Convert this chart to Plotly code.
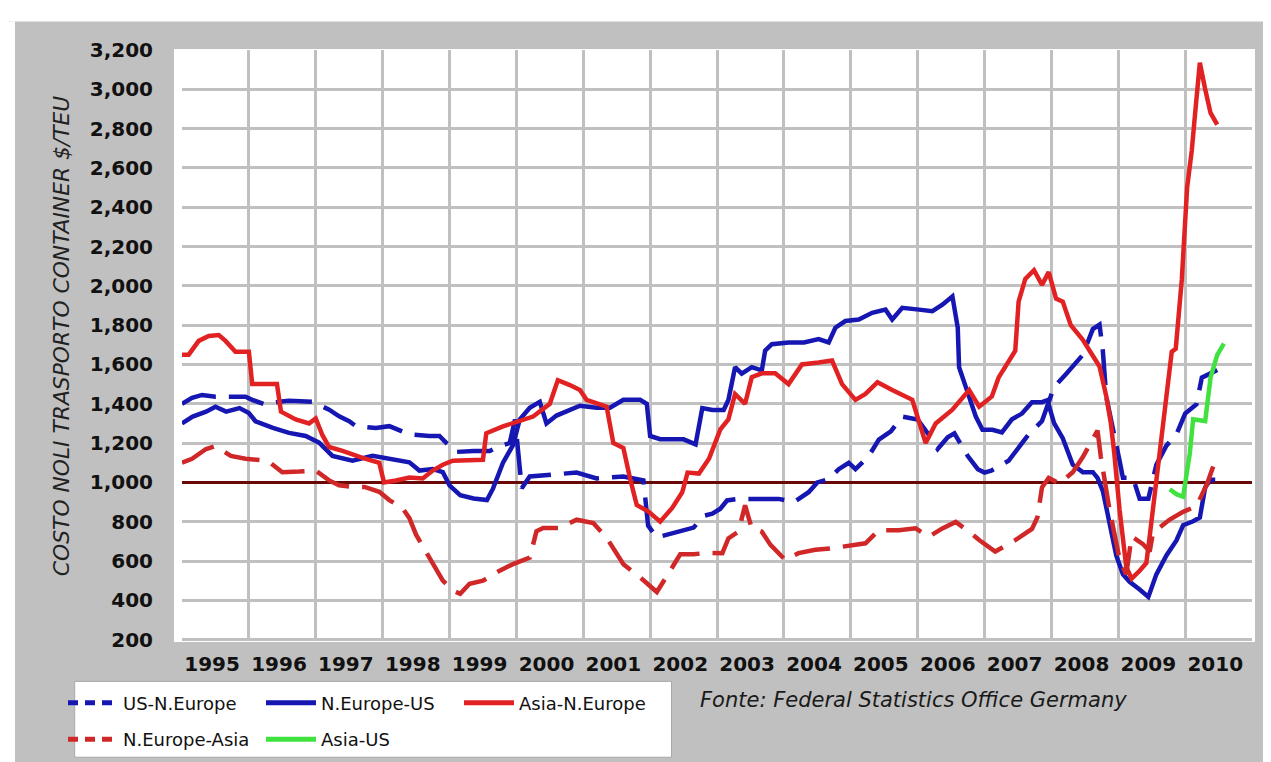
import plotly.graph_objects as go

# ---------------- data ----------------
YEARS = list(range(1995, 2011))
YEAR_LABELS = [str(y) for y in YEARS]
Y_TICKS = list(range(200, 3201, 200))
THRESHOLD = 1000

# US-N.Europe (dashed blue)
us_eu_t = [1995.0, 1995.15, 1995.3, 1995.5, 1995.75, 1995.95, 1996.05, 1996.25, 1996.45, 1996.6,
           1996.95, 1997.2, 1997.35, 1997.5, 1997.6, 1997.9, 1998.1, 1998.4, 1998.7, 1998.85,
           1999.0, 1999.1, 1999.36, 1999.6, 1999.75, 1999.9, 1999.98, 2000.08, 2000.2, 2000.5,
           2000.9, 2001.2, 2001.6, 2001.9, 2001.97, 2002.1, 2002.3, 2002.5, 2002.65, 2002.8,
           2002.93, 2003.05, 2003.15, 2003.32, 2003.92, 2004.15, 2004.37, 2004.5, 2004.67, 2004.82,
           2004.97, 2005.07, 2005.27, 2005.42, 2005.6, 2005.77, 2005.92, 2006.0, 2006.15, 2006.3,
           2006.45, 2006.55, 2006.75, 2006.9, 2007.0, 2007.1, 2007.36, 2007.66, 2007.86, 2008.04,
           2008.22, 2008.47, 2008.62, 2008.72, 2008.77, 2008.82, 2009.02, 2009.07, 2009.22, 2009.32,
           2009.45, 2009.57, 2009.72, 2009.87, 2010.0, 2010.17, 2010.25, 2010.48]
us_eu_v = [1400, 1430, 1445, 1436, 1436, 1436, 1420, 1395, 1410, 1415,
           1410, 1370, 1336, 1311, 1286, 1277, 1286, 1244, 1236, 1236,
           1185, 1155, 1160, 1160, 1185, 1200, 1320, 970, 1030, 1040,
           1050, 1020, 1030, 1010, 780, 720, 740, 760, 770, 830,
           841, 866, 908, 916, 916, 900, 950, 1000, 1017, 1067,
           1100, 1067, 1134, 1218, 1260, 1335, 1327, 1320, 1250, 1170,
           1230, 1250, 1134, 1067, 1050, 1060, 1110, 1244, 1312, 1485,
           1552, 1649, 1780, 1803, 1668, 1437, 1110, 1023, 1023, 917,
           917, 1090, 1187, 1244, 1350, 1398, 1533, 1572]

# N.Europe-US (solid blue)
eu_us_t = [1995.0, 1995.16, 1995.36, 1995.5, 1995.66, 1995.86, 1996.0, 1996.1, 1996.36, 1996.6,
           1996.85, 1997.05, 1997.25, 1997.55, 1997.85, 1998.15, 1998.4, 1998.55, 1998.75, 1998.9,
           1999.0, 1999.16, 1999.36, 1999.56, 1999.65, 1999.8, 1999.95, 2000.05, 2000.2, 2000.35,
           2000.45, 2000.6, 2000.8, 2000.95, 2001.2, 2001.4, 2001.6, 2001.85, 2001.95, 2002.0,
           2002.15, 2002.5, 2002.68, 2002.78, 2002.93, 2003.1, 2003.17, 2003.27, 2003.37, 2003.52,
           2003.67, 2003.72, 2003.82, 2004.07, 2004.3, 2004.52, 2004.67, 2004.77, 2004.92, 2005.12,
           2005.32, 2005.52, 2005.62, 2005.77, 2006.02, 2006.22, 2006.37, 2006.52, 2006.6, 2006.62,
           2006.72, 2006.87, 2006.97, 2007.12, 2007.26, 2007.41, 2007.56, 2007.71, 2007.86, 2007.94,
           2008.04, 2008.17, 2008.32, 2008.47, 2008.62, 2008.69, 2008.77, 2008.87, 2008.97, 2009.07,
           2009.17, 2009.32, 2009.45, 2009.57, 2009.72, 2009.87, 2009.97, 2010.12, 2010.22, 2010.3,
           2010.38, 2010.45]
eu_us_v = [1300, 1335, 1360, 1385, 1360, 1378, 1353, 1311, 1277, 1252,
           1236, 1202, 1135, 1110, 1135, 1119, 1102, 1060, 1068, 1052,
           985, 935, 918, 910, 968, 1100, 1190, 1320, 1380, 1410,
           1300, 1340, 1370, 1390, 1380, 1380, 1420, 1420, 1400, 1236,
           1220, 1219, 1194, 1378, 1368, 1368, 1419, 1586, 1553, 1586,
           1570, 1670, 1703, 1712, 1712, 1729, 1712, 1787, 1821, 1829,
           1863, 1879, 1829, 1888, 1879, 1871, 1904, 1946, 1787, 1586,
           1486, 1335, 1268, 1268, 1254, 1321, 1350, 1408, 1408, 1418,
           1302, 1225, 1090, 1052, 1052, 1023, 956, 782, 628, 532,
           494, 455, 417, 532, 628, 705, 782, 802, 821, 975,
           1013, 1013]

# Asia-N.Europe (solid red)
as_eu_t = [1995.0, 1995.1, 1995.25, 1995.4, 1995.55, 1995.65, 1995.8, 1996.0, 1996.05, 1996.42,
           1996.48, 1996.7, 1996.9, 1997.0, 1997.1, 1997.2, 1997.4, 1997.55, 1997.7, 1997.95,
           1998.02, 1998.2, 1998.4, 1998.6, 1998.75, 1998.9, 1999.05, 1999.5, 1999.55, 1999.8,
           2000.05, 2000.25, 2000.5, 2000.62, 2000.8, 2000.95, 2001.05, 2001.25, 2001.35, 2001.45,
           2001.6, 2001.7, 2001.8, 2001.98, 2002.15, 2002.33, 2002.48, 2002.56, 2002.73, 2002.88,
           2003.0, 2003.05, 2003.17, 2003.27, 2003.42, 2003.52, 2003.67, 2003.87, 2004.07, 2004.27,
           2004.52, 2004.72, 2004.87, 2005.07, 2005.22, 2005.4, 2005.62, 2005.92, 2006.12, 2006.27,
           2006.52, 2006.77, 2006.92, 2007.11, 2007.21, 2007.31, 2007.46, 2007.51, 2007.61, 2007.74,
           2007.86, 2007.96, 2008.07, 2008.17, 2008.29, 2008.47, 2008.62, 2008.72, 2008.82, 2008.89,
           2008.94, 2009.02, 2009.12, 2009.2, 2009.32, 2009.42, 2009.47, 2009.57, 2009.7, 2009.8,
           2009.86, 2009.95, 2010.03, 2010.1, 2010.15, 2010.22, 2010.3, 2010.38, 2010.48]
as_eu_v = [1650, 1650, 1720, 1745, 1750, 1720, 1665, 1665, 1500, 1500,
           1360, 1320, 1300, 1325, 1240, 1180, 1160, 1140, 1125, 1100,
           1000, 1010, 1025, 1020, 1060, 1090, 1110, 1115, 1250, 1285,
           1310, 1335, 1400, 1520, 1495, 1470, 1420, 1400, 1385, 1200,
           1175, 1020, 885, 850, 800, 870, 950, 1050, 1045, 1120,
           1230, 1270, 1320, 1450, 1400, 1535, 1555, 1555, 1500, 1600,
           1610, 1620, 1500, 1420, 1450, 1510, 1470, 1420, 1200, 1300,
           1370, 1470, 1385, 1437, 1533, 1590, 1670, 1920, 2035, 2080,
           2005, 2070, 1935, 1920, 1800, 1725, 1650, 1590, 1440, 1300,
           1150, 860, 570, 510, 550, 590, 725, 1010, 1340, 1665,
           1680, 2030, 2500, 2690, 2880, 3135, 3000, 2880, 2820]

# N.Europe-Asia (dashed red)
eu_as_t = [1995.0, 1995.15, 1995.36, 1995.5, 1995.73, 1995.95, 1996.28, 1996.5, 1996.75, 1997.0,
           1997.2, 1997.35, 1997.55, 1997.73, 1997.95, 1998.1, 1998.3, 1998.4, 1998.5, 1998.75,
           1998.9, 1999.05, 1999.16, 1999.3, 1999.5, 1999.75, 1999.95, 2000.2, 2000.3, 2000.4,
           2000.65, 2000.9, 2001.15, 2001.35, 2001.6, 2001.85, 2002.1, 2002.3, 2002.45, 2002.65,
           2002.85, 2003.08, 2003.17, 2003.32, 2003.42, 2003.52, 2003.67, 2003.8, 2004.02, 2004.22,
           2004.47, 2004.72, 2005.02, 2005.22, 2005.42, 2005.72, 2005.97, 2006.17, 2006.37, 2006.57,
           2006.77, 2006.92, 2007.16, 2007.46, 2007.71, 2007.79, 2007.86, 2007.96, 2008.12, 2008.32,
           2008.47, 2008.59, 2008.69, 2008.74, 2008.87, 2009.02, 2009.12, 2009.2, 2009.37, 2009.47,
           2009.52, 2009.77, 2009.97, 2010.17, 2010.33, 2010.43, 2010.48]
eu_as_v = [1100, 1120, 1170, 1185, 1135, 1120, 1110, 1052, 1055, 1060,
           1010, 985, 977, 977, 952, 910, 868, 818, 734, 584,
           500, 450, 433, 484, 500, 551, 584, 617, 751, 768,
           768, 810, 793, 718, 584, 517, 442, 551, 634, 634,
           642, 640, 715, 749, 883, 766, 749, 682, 606, 640,
           657, 665, 682, 690, 757, 757, 766, 724, 766, 799,
           749, 707, 648, 706, 763, 821, 975, 1023, 994, 1052,
           1129, 1206, 1264, 1129, 860, 609, 532, 725, 686, 648,
           744, 811, 850, 879, 994, 1090, 1119]

# Asia-US (solid green)
as_us_t = [2009.77, 2009.87, 2009.97, 2010.07, 2010.12, 2010.3, 2010.38, 2010.48, 2010.58]
as_us_v = [965, 940, 927, 1148, 1321, 1312, 1533, 1649, 1706]

# ---------------- styling ----------------
BLUE = "#1616b2"
RED = "#e22222"
RED_DASH = "#d02828"
GREEN = "#3fe23f"
MAROON = "#6a0808"
GRID = "#c0c0c0"
BG = "#c0c0c0"
FONT = "DejaVu Sans"

W, H = 1271, 762
ML, MR, MT, MB = 174, 27, 42, 120


def px(p):
    return (p - ML) / (W - ML - MR)


def py(p):
    return (H - MB - p) / (H - MT - MB)


series = [
    dict(name="US-N.Europe", t=us_eu_t, v=us_eu_v, color=BLUE, dashed=True, legend="legend", rank=1),
    dict(name="N.Europe-US", t=eu_us_t, v=eu_us_v, color=BLUE, dashed=False, legend="legend", rank=2),
    dict(name="Asia-N.Europe", t=as_eu_t, v=as_eu_v, color=RED, dashed=False, legend="legend", rank=3),
    dict(name="N.Europe-Asia", t=eu_as_t, v=eu_as_v, color=RED_DASH, dashed=True, legend="legend2", rank=1),
    dict(name="Asia-US", t=as_us_t, v=as_us_v, color=GREEN, dashed=False, legend="legend2", rank=2),
]

fig = go.Figure()

# 1,000 $/TEU reference line
fig.add_trace(go.Scatter(
    x=[YEARS[0], YEARS[-1] + 1], y=[THRESHOLD, THRESHOLD], mode="lines",
    line=dict(color=MAROON, width=3), showlegend=False, hoverinfo="skip"))

for s in series:
    fig.add_trace(go.Scatter(
        x=s["t"], y=s["v"], mode="lines", name=s["name"], legendgroup=s["name"],
        showlegend=False,
        line=dict(color=s["color"], width=4.5, dash="36px,13px" if s["dashed"] else "solid")))

# legend entries (Excel-like short dash symbols)
for s in series:
    fig.add_trace(go.Scatter(
        x=[None], y=[None], mode="lines", name=s["name"], legendgroup=s["name"],
        legend=s["legend"], legendrank=s["rank"], showlegend=True,
        line=dict(color=s["color"], width=5, dash="10px,7px" if s["dashed"] else "solid")))

legend_common = dict(
    orientation="h", bgcolor="rgba(0,0,0,0)", borderwidth=0,
    font=dict(family=FONT, size=18, color="#111111"),
    itemwidth=50, entrywidth=133, entrywidthmode="pixels",
    xanchor="left", yanchor="middle", traceorder="normal",
)

fig.update_layout(
    width=W, height=H,
    margin=dict(l=ML, r=MR, t=MT, b=MB, pad=0),
    paper_bgcolor=BG, plot_bgcolor="white",
    showlegend=True,
    legend=dict(**legend_common, x=px(55), y=py(705)),
    legend2=dict(**legend_common, x=px(55), y=py(742)),
    xaxis=dict(
        range=[YEARS[0], YEARS[-1] + 1], tickmode="array",
        tickvals=[y + 0.45 for y in YEARS], ticktext=YEAR_LABELS,
        showgrid=False, zeroline=False, showline=False, ticks="",
        ticklabelstandoff=9,
        tickfont=dict(family=FONT, size=20, color="#111111", weight="bold"),
        minor=dict(tickmode="array", tickvals=YEARS[1:], showgrid=True,
                   gridcolor=GRID, gridwidth=3, ticks=""),
        fixedrange=True,
    ),
    yaxis=dict(
        range=[193, 3200], tickmode="array", tickvals=Y_TICKS,
        ticktext=[f"{v:,}" for v in Y_TICKS],
        showgrid=False, zeroline=False, showline=False, ticks="",
        ticklabelstandoff=28,
        tickfont=dict(family=FONT, size=20, color="#111111", weight="bold"),
        minor=dict(tickmode="array", tickvals=Y_TICKS[:-1], showgrid=True,
                   gridcolor=GRID, gridwidth=3, ticks=""),
        fixedrange=True,
    ),
    shapes=[
        # white border strips around the grey chart area
        dict(type="rect", xref="paper", yref="paper", x0=px(-10), x1=px(1290), y0=py(13), y1=py(-10),
             fillcolor="white", line=dict(width=0), layer="below"),
        dict(type="rect", xref="paper", yref="paper", x0=px(-10), x1=px(7), y0=py(775), y1=py(13),
             fillcolor="white", line=dict(width=0), layer="below"),
        # white frame of the plot area
        dict(type="rect", xref="paper", yref="paper", x0=px(166), x1=px(1247), y0=py(643), y1=py(41),
             fillcolor="white", line=dict(width=0), layer="below"),
        # legend box
        dict(type="rect", xref="paper", yref="paper", x0=px(66.7), x1=px(663.5), y0=py(760), y1=py(683),
             fillcolor="white", line=dict(width=1, color="#a8a8a8"), layer="below"),
    ],
    annotations=[
        dict(text="COSTO NOLI TRASPORTO CONTAINER $/TEU", xref="paper", yref="paper",
             x=px(53.5), y=py(333), xanchor="center", yanchor="middle", textangle=-90,
             showarrow=False, font=dict(family=FONT, size=21.8, color="#222222", style="italic")),
        dict(text="Fonte: Federal Statistics Office Germany", xref="paper", yref="paper",
             x=px(690), y=py(702), xanchor="left", yanchor="middle", showarrow=False,
             font=dict(family=FONT, size=21, color="#1a1a1a", style="italic")),
    ],
)

fig.write_html("out.html")
